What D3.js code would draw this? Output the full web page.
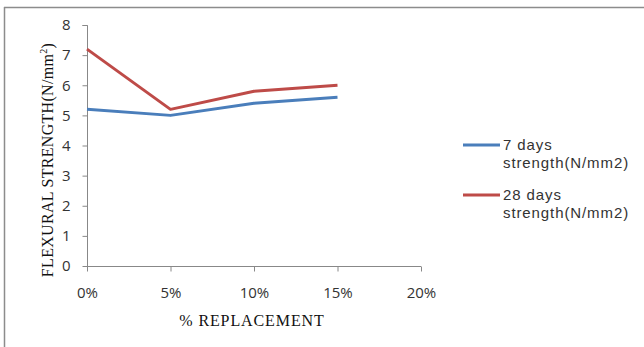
<!DOCTYPE html>
<html>
<head>
<meta charset="utf-8">
<script src="https://cdn.jsdelivr.net/npm/d3@7"></script>
<style>
  html, body { margin: 0; padding: 0; background: #fff; }
  svg { display: block; }
</style>
</head>
<body>
<svg id="chart" width="644" height="347"></svg>
<script>
// Categories (replacement level) and the two strength series
const categories = ["0%", "5%", "10%", "15%", "20%"];
const replacement = [0, 5, 10, 15];
const days7 = [5.2, 5.0, 5.4, 5.6];
const days28 = [7.2, 5.2, 5.8, 6.0];
const yTicks = [0, 1, 2, 3, 4, 5, 6, 7, 8];
const seriesNames = ["7 days|strength(N/mm2)", "28 days|strength(N/mm2)"];
const seriesColors = ["#4a7ebb", "#be4b48"];

const svg = d3.select("#chart");

// outer frame: top and left edges
svg.append("line").attr("x1", 4).attr("x2", 644).attr("y1", 7.5).attr("y2", 7.5)
  .attr("stroke", "#8c8c8c").attr("stroke-width", 1.5);
svg.append("line").attr("x1", 4.5).attr("x2", 4.5).attr("y1", 7).attr("y2", 347)
  .attr("stroke", "#8c8c8c").attr("stroke-width", 1.5);

const x = d3.scaleLinear().domain([0, 20]).range([87, 421]);
const y = d3.scaleLinear().domain([0, 8]).range([266, 25]);

const tickFont = "'Open Sans', 'DejaVu Sans', sans-serif";
const legendFont = "'Liberation Sans', Arial, sans-serif";
const serif = "'Liberation Serif', 'Times New Roman', serif";

// y axis
const yAxis = svg.append("g").attr("transform", "translate(87.5,0)")
  .call(d3.axisLeft(y).tickValues(yTicks).tickSize(5).tickPadding(12).tickFormat(d3.format("d")));
yAxis.select(".domain").attr("stroke", "#888").attr("d", `M-5,${y(8) + 0.5}H0V${y(0) + 0.5}`);
yAxis.selectAll(".tick line").attr("stroke", "#888");
yAxis.selectAll(".tick text").attr("fill", "#333").style("font-family", tickFont).style("font-size", "15px");

// x axis
const xAxis = svg.append("g").attr("transform", `translate(0,${y(0) + 0.5})`)
  .call(d3.axisBottom(x).tickValues([0, 5, 10, 15, 20]).tickSize(5).tickPadding(16)
    .tickFormat((d, i) => categories[i]));
xAxis.select(".domain").attr("stroke", "#888").attr("d", `M${x(0)},0H${x(20)}`);
xAxis.selectAll(".tick line").attr("stroke", "#888");
xAxis.selectAll(".tick text").attr("fill", "#333").style("font-family", tickFont).style("font-size", "15px");

// series lines
const line = d3.line().x((d, i) => x(replacement[i])).y(d => y(d));
[days7, days28].forEach((s, k) => {
  svg.append("path").datum(s).attr("d", line).attr("fill", "none")
    .attr("stroke", seriesColors[k]).attr("stroke-width", 3).attr("stroke-linejoin", "round");
});

// axis titles
svg.append("text").attr("x", 252).attr("y", 326).attr("text-anchor", "middle")
  .style("font-family", serif).style("font-size", "16px").style("letter-spacing", "0.9px")
  .attr("fill", "#111").text("% REPLACEMENT");

const yt = svg.append("text").attr("transform", "translate(53,160) rotate(-90)")
  .attr("text-anchor", "middle")
  .style("font-family", serif).style("font-size", "16px").style("letter-spacing", "0.3px")
  .attr("fill", "#111");
yt.append("tspan").text("FLEXURAL STRENGTH(N/mm");
yt.append("tspan").attr("dy", -6).style("font-size", "10px").text("2");
yt.append("tspan").attr("dy", 6).text(")");

// legend
const legend = svg.append("g");
seriesNames.forEach((name, k) => {
  const ly = 145 + k * 50;
  legend.append("line").attr("x1", 463).attr("x2", 500).attr("y1", ly).attr("y2", ly)
    .attr("stroke", seriesColors[k]).attr("stroke-width", 3);
  const parts = name.split("|");
  parts.forEach((p, j) => {
    legend.append("text").attr("x", 503).attr("y", ly + 5 + j * 18)
      .style("font-family", legendFont).style("font-size", "15px").style("letter-spacing", "0.9px")
      .attr("fill", "#333").text(p);
  });
});
</script>
</body>
</html>
